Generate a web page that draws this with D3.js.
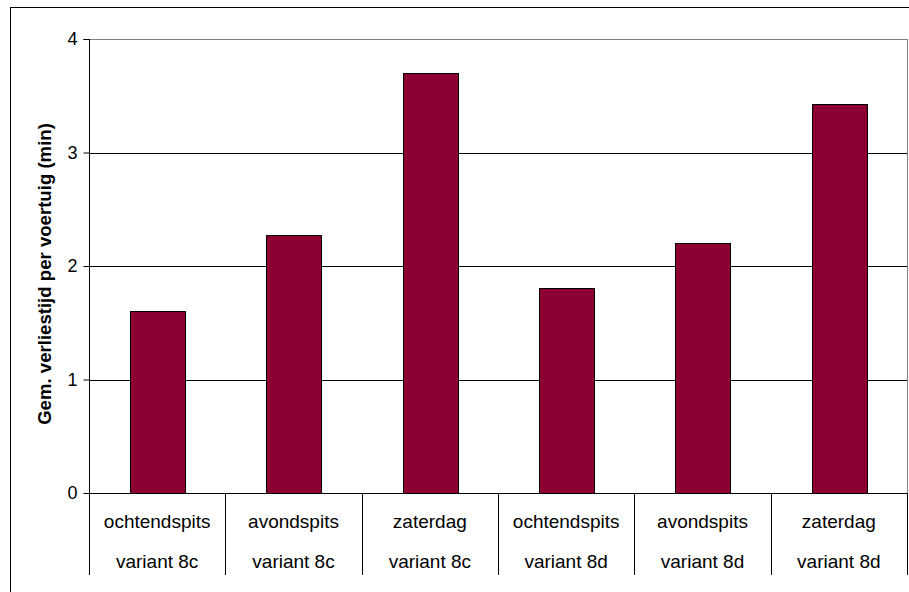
<!DOCTYPE html>
<html>
<head>
<meta charset="utf-8">
<script src="https://cdn.jsdelivr.net/npm/d3@7"></script>
<style>
  body { margin: 0; background: #fff; }
  svg { display: block; font-family: "Liberation Sans", Arial, sans-serif; }
</style>
</head>
<body>
<div id="chart"></div>
<script>
// data
const periods = ["ochtendspits", "avondspits", "zaterdag", "ochtendspits", "avondspits", "zaterdag"];
const variants = ["variant 8c", "variant 8c", "variant 8c", "variant 8d", "variant 8d", "variant 8d"];
const values = [1.6, 2.27, 3.7, 1.81, 2.2, 3.43];
const yTicks = [0, 1, 2, 3, 4];

const width = 909;
const height = 592;
const plot = { left: 89, right: 907, top: 39, bottom: 493 };

const svg = d3.select("#chart")
  .append("svg")
  .attr("width", width)
  .attr("height", height);

// outer frame (runs off the right and bottom edge)
svg.append("rect")
  .attr("x", 10.5)
  .attr("y", 7.5)
  .attr("width", 910)
  .attr("height", 600)
  .attr("fill", "#fff")
  .attr("stroke", "#000");

const idx = d3.range(values.length);

const x = d3.scaleBand()
  .domain(idx)
  .range([plot.left, plot.right])
  .paddingInner(0.6)
  .paddingOuter(0.3);

const xCell = d3.scaleBand()
  .domain(idx)
  .range([plot.left, plot.right]);

const y = d3.scaleLinear()
  .domain([0, 4])
  .range([plot.bottom, plot.top]);

// gridlines
svg.append("g")
  .selectAll("line")
  .data(yTicks.filter(d => d > 0 && d < 4))
  .join("line")
  .attr("x1", plot.left)
  .attr("x2", plot.right)
  .attr("y1", d => Math.round(y(d)) + 0.5)
  .attr("y2", d => Math.round(y(d)) + 0.5)
  .attr("stroke", "#000");

// plot area border, top + right in gray
svg.append("path")
  .attr("d", `M${plot.left},${plot.top + 0.5}H${plot.right + 0.5}V${plot.bottom}`)
  .attr("fill", "none")
  .attr("stroke", "#808080");

// bars
svg.append("g")
  .selectAll("rect")
  .data(values)
  .join("rect")
  .attr("x", (d, i) => Math.round(x(i)) + 0.5)
  .attr("y", d => Math.round(y(d)) + 0.5)
  .attr("width", Math.round(x.bandwidth()))
  .attr("height", d => Math.round(y(0)) - Math.round(y(d)))
  .attr("fill", "#8c0034")
  .attr("stroke", "#000");

// y axis
const yAxis = svg.append("g")
  .attr("transform", `translate(${plot.left + 0.5},0)`)
  .call(d3.axisLeft(y).tickValues(yTicks).tickSize(6).tickPadding(6).tickFormat(d3.format("d")));
yAxis.select(".domain").attr("d", `M-6,${plot.top + 0.5}H0V575`).attr("stroke", "#000");
yAxis.selectAll(".tick line").attr("stroke", "#000");
yAxis.selectAll(".tick text")
  .attr("font-size", 18)
  .attr("font-family", "Liberation Sans, Arial, sans-serif")
  .attr("fill", "#000");

// x axis line and category dividers
svg.append("line")
  .attr("x1", plot.left)
  .attr("x2", plot.right + 1)
  .attr("y1", plot.bottom + 0.5)
  .attr("y2", plot.bottom + 0.5)
  .attr("stroke", "#000");

svg.append("g")
  .selectAll("line")
  .data(idx.slice(1).concat([values.length]))
  .join("line")
  .attr("x1", i => Math.round(i < values.length ? xCell(i) : plot.right) + 0.5)
  .attr("x2", i => Math.round(i < values.length ? xCell(i) : plot.right) + 0.5)
  .attr("y1", plot.bottom)
  .attr("y2", 575)
  .attr("stroke", "#000");

// category labels (two rows)
const labels = svg.append("g")
  .attr("font-size", 19)
  .attr("text-anchor", "middle")
  .attr("fill", "#000");

labels.selectAll("text.period")
  .data(periods)
  .join("text")
  .attr("class", "period")
  .attr("x", (d, i) => xCell(i) + xCell.bandwidth() / 2)
  .attr("y", 528)
  .text(d => d);

labels.selectAll("text.variant")
  .data(variants)
  .join("text")
  .attr("class", "variant")
  .attr("x", (d, i) => xCell(i) + xCell.bandwidth() / 2)
  .attr("y", 568)
  .text(d => d);

// y title
svg.append("text")
  .attr("transform", `translate(51,274) rotate(-90)`)
  .attr("text-anchor", "middle")
  .attr("font-size", 18.6)
  .attr("font-weight", "bold")
  .text("Gem. verliestijd per voertuig (min)");
</script>
</body>
</html>
